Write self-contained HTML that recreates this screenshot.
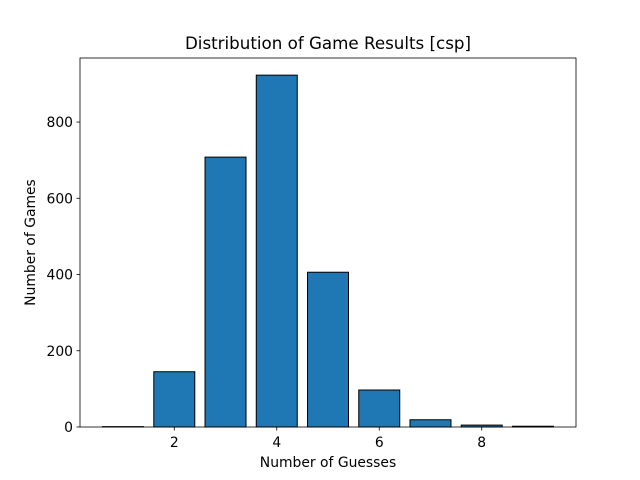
<!DOCTYPE html>
<html><head><meta charset="utf-8"><style>
body{margin:0;background:#fff;}
svg{display:block;font-family:"DejaVu Sans","Liberation Sans",sans-serif;}
</style></head><body>
<svg id="chart" width="640" height="480">
<rect width="640" height="480" fill="#fff"/>
<text x="328" y="49" font-size="16.7" text-anchor="middle">Distribution of Game Results [csp]</text>
<g id="bars"></g>
<g id="axes"></g>
<rect x="80" y="58" width="496" height="369" fill="none" stroke="#000" stroke-width="0.8"/>
<text x="328" y="467" font-size="13.9" text-anchor="middle">Number of Guesses</text>
<text transform="translate(35,242.5) rotate(-90)" font-size="13.9" text-anchor="middle">Number of Games</text>
</svg>
<script>
const categories=[1,2,3,4,5,6,7,8,9];
const counts=[1,145,708,923,406,97,19,5,2];
const xTicks=[2,4,6,8];
const yTicks=[0,200,400,600,800];
const L=80,R=576,T=58,B=427;
const xMin=0.16,xMax=9.84,yMax=968;
const xs=v=>L+(v-xMin)/(xMax-xMin)*(R-L);
const ys=v=>B-v/yMax*(B-T);
const NS="http://www.w3.org/2000/svg";
const bars=document.getElementById('bars');
categories.forEach((c,i)=>{
 const r=document.createElementNS(NS,'rect');
 const x0=xs(c-0.4),x1=xs(c+0.4);
 r.setAttribute('x',x0);r.setAttribute('width',x1-x0);
 r.setAttribute('y',ys(counts[i]));r.setAttribute('height',B-ys(counts[i]));
 r.setAttribute('fill','#1f77b4');r.setAttribute('stroke','#000');r.setAttribute('stroke-width','1');
 
 
 bars.appendChild(r);
});
const axes=document.getElementById('axes');
xTicks.forEach(t=>{
 const x=xs(t);
 const l=document.createElementNS(NS,'line');
 l.setAttribute('x1',x);l.setAttribute('x2',x);l.setAttribute('y1',B);l.setAttribute('y2',B+3.5);l.setAttribute('stroke','#000');l.setAttribute('stroke-width','0.8');
 
 
 axes.appendChild(l);
 const tx=document.createElementNS(NS,'text');
 tx.setAttribute('x',x);tx.setAttribute('y',B+20);tx.setAttribute('font-size','13.9');tx.setAttribute('text-anchor','middle');tx.textContent=t;
 
 
 axes.appendChild(tx);
});
yTicks.forEach(t=>{
 const y=ys(t);
 const l=document.createElementNS(NS,'line');
 l.setAttribute('x1',L-3.5);l.setAttribute('x2',L);l.setAttribute('y1',y);l.setAttribute('y2',y);l.setAttribute('stroke','#000');l.setAttribute('stroke-width','0.8');
 
 
 axes.appendChild(l);
 const tx=document.createElementNS(NS,'text');
 tx.setAttribute('x',L-7);tx.setAttribute('y',y+5);tx.setAttribute('font-size','13.9');tx.setAttribute('text-anchor','end');tx.textContent=t;
 
 
 axes.appendChild(tx);
});
</script>
</body></html>
